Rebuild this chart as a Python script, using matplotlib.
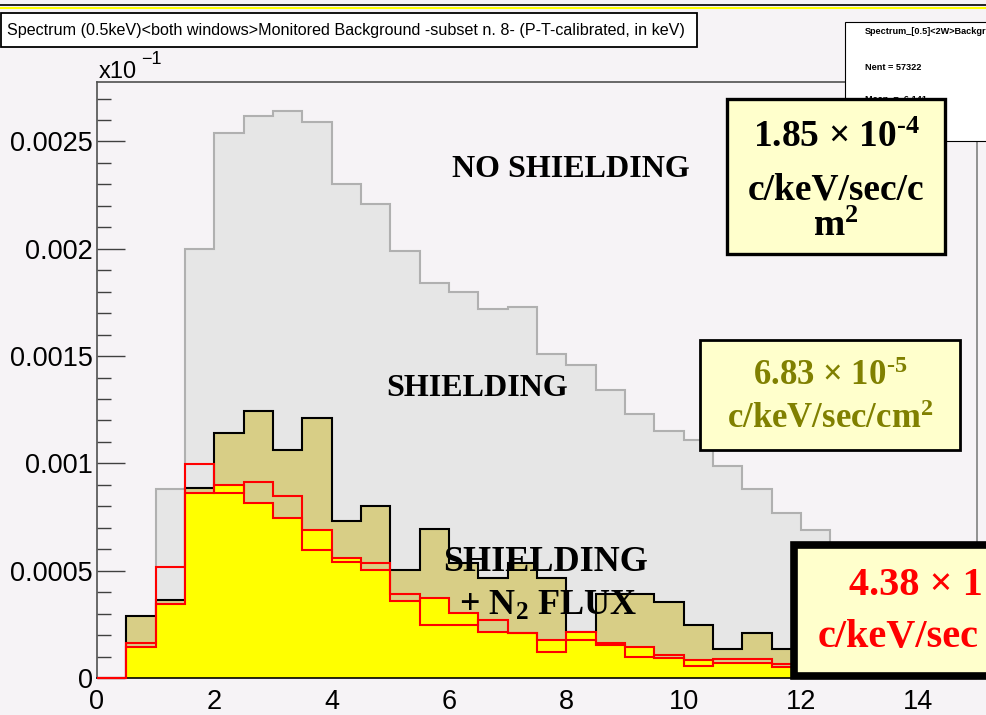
import numpy as np
import matplotlib
matplotlib.use("Agg")
import matplotlib.pyplot as plt
from matplotlib.patches import Rectangle
from matplotlib.lines import Line2D

plt.rcParams['mathtext.fontset'] = 'custom'
plt.rcParams['mathtext.rm'] = 'Liberation Serif:bold'
plt.rcParams['mathtext.bf'] = 'Liberation Serif:bold'
plt.rcParams['mathtext.it'] = 'Liberation Serif:bold:italic'

# %% data, 0.5 keV bins from 0 to 15 keV
edges = np.arange(0, 15.5, 0.5)
no_shielding = [0, 0.00028, 0.00088, 0.00200, 0.00254, 0.00262, 0.00264, 0.00259,
                0.00230, 0.00221, 0.00199, 0.00184, 0.00180, 0.00172, 0.00173, 0.00151,
                0.00146, 0.00134, 0.00123, 0.00115, 0.00111, 0.00099, 0.00088, 0.00077,
                0.00069, 0.00055, 0.00045, 0.00035, 0.00028, 0.00020]
shielding = [0, 0.000288, 0.000362, 0.000885, 0.00114, 0.001245, 0.001064, 0.00121,
             0.00073, 0.0008, 0.000504, 0.000693, 0.000536, 0.000467, 0.000536, 0.000467,
             0.000213, 0.000392, 0.000392, 0.000353, 0.000248, 0.000137, 0.00021, 0.000137,
             0.00012, 0.0001, 0.00008, 0.00006, 0.00005, 0.00003]
n2_flux = [0, 0.000146, 0.000347, 0.000863, 0.0009, 0.000814, 0.000744, 0.000691,
           0.000557, 0.000501, 0.000358, 0.000371, 0.000301, 0.000214, 0.000208, 0.000177,
           0.000213, 0.000152, 0.000144, 0.000092, 0.000082, 0.000071, 0.000071, 0.000051,
           0.00004, 0.00003, 0.00002, 0.00001, 0.00001, 0]
n2_flux_b = [0, 0.000162, 0.000516, 0.000997, 0.00086, 0.000913, 0.000849, 0.000595,
             0.000541, 0.000536, 0.000392, 0.000247, 0.000247, 0.00027, 0.000211, 0.000122,
             0.000177, 0.000164, 0.000098, 0.000107, 0.000056, 0.000087, 0.000087, 0.000064,
             0.00005, 0.00004, 0.00003, 0.00002, 0.00001, 0]

yticks = [0, 0.0005, 0.001, 0.0015, 0.002, 0.0025]
ytick_labels = ['0', '0.0005', '0.001', '0.0015', '0.002', '0.0025']
xticks = [0, 2, 4, 6, 8, 10, 12, 14]

bg = '#f6f3f6'
W, H = 987, 715
def fx(px): return px / W
def fy(py): return 1 - py / H

# %% figure
fig = plt.figure(figsize=(9.87, 7.15), dpi=100, facecolor=bg)
ax = fig.add_axes([fx(97), fy(678), 880 / W, (678 - 82) / H])
ax.set_facecolor(bg)

ax.stairs(no_shielding, edges, fill=True, color='#e6e6e6', zorder=1)
ax.stairs(no_shielding, edges, color='#b0b0b0', lw=1.5, zorder=1.1)
ax.stairs(shielding, edges, fill=True, color='#d8ce86', zorder=1.2)
ax.stairs(shielding, edges, color='black', lw=1.5, zorder=1.3)
ax.stairs(n2_flux, edges, fill=True, color='#ffff00', zorder=1.4)
ax.stairs(n2_flux, edges, color='#ff0000', lw=1.5, zorder=3, clip_on=False)
ax.stairs(n2_flux_b, edges, color='#ff0000', lw=1.5, zorder=3, clip_on=False)

ax.set_xlim(0, 15)
ax.set_ylim(0, 0.002777)
ax.set_yticks(yticks, ytick_labels)
ax.set_yticks(np.arange(0, 0.00275, 0.0001), minor=True)
ax.set_xticks(xticks, [str(t) for t in xticks])
ax.tick_params(axis='y', which='major', direction='in', length=20, width=1,
               color='#404040', pad=3, labelsize=19.5)
ax.tick_params(axis='y', which='minor', direction='in', length=10, width=1, color='#404040')
ax.tick_params(axis='x', length=0, pad=8, labelsize=19.5)
for lab in ax.get_xticklabels() + ax.get_yticklabels():
    lab.set_family(['Liberation Sans', 'DejaVu Sans'])
for side, c in [('left', '#505050'), ('top', '#505050'), ('right', '#808080'), ('bottom', 'black')]:
    ax.spines[side].set_color(c)
    ax.spines[side].set_linewidth(1.2)

# labels inside the plot
serif = dict(family='Liberation Serif', weight='bold', color='black')
ax.text(6.05, 0.002335, 'NO SHIELDING', fontsize=23, **serif)
ax.text(4.93, 0.001314, 'SHIELDING', fontsize=23, **serif)
ax.text(5.90, 0.000499, 'SHIELDING', fontsize=26, zorder=4, **serif)
ax.text(6.17, 0.000294, '+ N$_2$ FLUX', fontsize=26, zorder=4, **serif)

# exponent label above the axis
fig.text(fx(99), fy(78), 'x10', fontsize=17, family='Liberation Sans', va='baseline')
fig.text(fx(141), fy(64), '\u22121', fontsize=13, family='Liberation Sans', va='baseline')

# top border lines
fig.add_artist(Line2D([0, 1], [fy(5), fy(5)], color='black', lw=1.2))
fig.add_artist(Line2D([0, 1], [fy(8), fy(8)], color='#ffff00', lw=1.5))

# title box
fig.add_artist(Rectangle((fx(1), fy(47)), fx(696), 34 / H, facecolor='white',
                         edgecolor='black', lw=1.3, zorder=5))
fig.text(fx(7), fy(30), 'Spectrum (0.5keV)<both windows>Monitored Background -subset n. 8- (P-T-calibrated, in keV)',
         fontsize=11.6, family='Liberation Sans', va='center', zorder=6)

# stats box (only its left part is inside the picture)
fig.add_artist(Rectangle((fx(845), fy(141)), fx(200), 119 / H, facecolor='white',
                         edgecolor='black', lw=0.8, zorder=5))
stats = dict(fontsize=6.6, family='Liberation Sans', weight='bold', va='center', zorder=6)
fig.text(fx(865), fy(32), 'Spectrum_[0.5]<2W>Backgr', **stats)
fig.text(fx(865), fy(67), 'Nent = 57322', **stats)
fig.text(fx(865), fy(99), 'Mean  =  6.141', **stats)

# rate boxes
box_fc = '#ffffcc'
fig.add_artist(Rectangle((fx(726.7), fy(254)), (945 - 726.7) / W, (254 - 99.3) / H,
                         facecolor=box_fc, edgecolor='black', lw=2.4, zorder=7))
b1 = dict(fontsize=27, family='Liberation Serif', weight='bold', color='black',
          ha='center', va='baseline', zorder=8)
fig.text(fx(836), fy(147), '1.85 \u00d7 10$^{\u20104}$', **b1)
fig.text(fx(836), fy(200), 'c/keV/sec/c', **b1)
fig.text(fx(836), fy(236), 'm$^2$', **b1)

fig.add_artist(Rectangle((fx(700), fy(449.7)), (960.3 - 700) / W, (449.7 - 339.7) / H,
                         facecolor=box_fc, edgecolor='black', lw=2, zorder=7))
b2 = dict(fontsize=25, family='Liberation Serif', weight='bold', color='#808000',
          ha='center', va='baseline', zorder=8)
fig.text(fx(830), fy(385), '6.83 \u00d7 10$^{\u20105}$', **b2)
fig.text(fx(830), fy(428), 'c/keV/sec/cm$^2$', **b2)

# third box runs past the right edge of the picture; only the visible part of its text is kept
fig.add_artist(Rectangle((fx(794.5), fy(675.5)), (1040 - 794.5) / W, (675.5 - 544.5) / H,
                         facecolor=box_fc, edgecolor='black', lw=5.5, zorder=7))
b3 = dict(fontsize=29, family='Liberation Serif', weight='bold', color='#ff0000',
          ha='left', va='baseline', zorder=8)
fig.text(fx(849), fy(595), '4.38 \u00d7 1', **b3)
fig.text(fx(818), fy(647), 'c/keV/sec', **b3)

fig.savefig('out.png', dpi=100, facecolor=bg)
